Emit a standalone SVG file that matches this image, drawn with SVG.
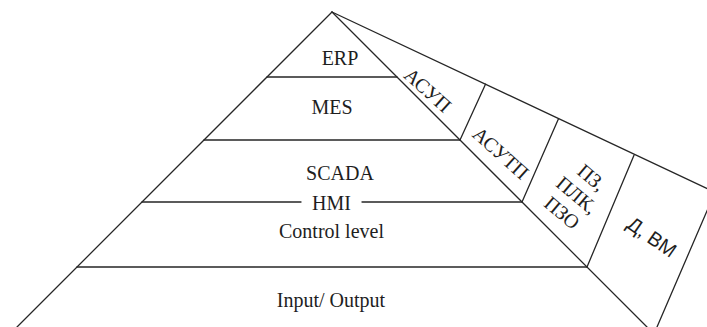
<svg xmlns="http://www.w3.org/2000/svg" width="707" height="327" viewBox="0 0 707 327">
<style>
.ln{stroke:#262626;stroke-width:1.3;fill:none;stroke-linecap:round}
.t{font-family:'Liberation Serif','DejaVu Serif',serif;font-size:20px;fill:#1e1e1e;text-anchor:middle}
.r{font-family:'Liberation Serif','DejaVu Serif',serif;font-size:20px;fill:#1e1e1e;text-anchor:middle;dominant-baseline:central}
.s{font-family:'Liberation Sans','DejaVu Sans',sans-serif;font-size:20px;fill:#1e1e1e;text-anchor:middle;dominant-baseline:central}
</style>
<rect width="707" height="327" fill="#ffffff"/>
<g id="connectors">
<line class="ln" x1="332" y1="12" x2="17" y2="327"/>
<line class="ln" x1="332" y1="12" x2="647" y2="327"/>
<line class="ln" x1="332" y1="12" x2="720" y2="194.6"/>
<line class="ln" x1="267" y1="77" x2="397" y2="77"/>
<line class="ln" x1="204" y1="140" x2="460" y2="140"/>
<line class="ln" x1="142" y1="202" x2="301" y2="202"/>
<line class="ln" x1="362" y1="202" x2="522" y2="202"/>
<line class="ln" x1="77" y1="267" x2="587" y2="267"/>
<line class="ln" x1="460" y1="140" x2="485.5" y2="84.2"/>
<line class="ln" x1="522" y1="202" x2="558.5" y2="118.7"/>
<line class="ln" x1="587" y1="267" x2="634" y2="155.2"/>
<line class="ln" x1="657" y1="327" x2="715" y2="192.3"/>
</g>
<g id="erp"><text class="t" x="340" y="65">ERP</text></g>
<g id="mes"><text class="t" x="332" y="114">MES</text></g>
<g id="scada"><text class="t" x="340" y="180">SCADA</text></g>
<g id="hmi"><text class="t" x="331.5" y="210">HMI</text></g>
<g id="control"><text class="t" x="331.5" y="238">Control level</text></g>
<g id="io"><text class="t" x="331" y="307">Input/ Output</text></g>
<g id="asup"><text class="r" transform="translate(428,90) rotate(42)">АСУП</text></g>
<g id="asutp"><text class="r" transform="translate(501,153) rotate(42)">АСУТП</text></g>
<g id="pz"><text class="r" transform="translate(577,195) rotate(40)"><tspan x="0" y="-23">ПЗ,</tspan><tspan x="0" y="0">ПЛК,</tspan><tspan x="0" y="23">ПЗО</tspan></text></g>
<g id="dvm"><text class="s" transform="translate(652,237) rotate(35)">Д, ВМ</text></g>
</svg>
